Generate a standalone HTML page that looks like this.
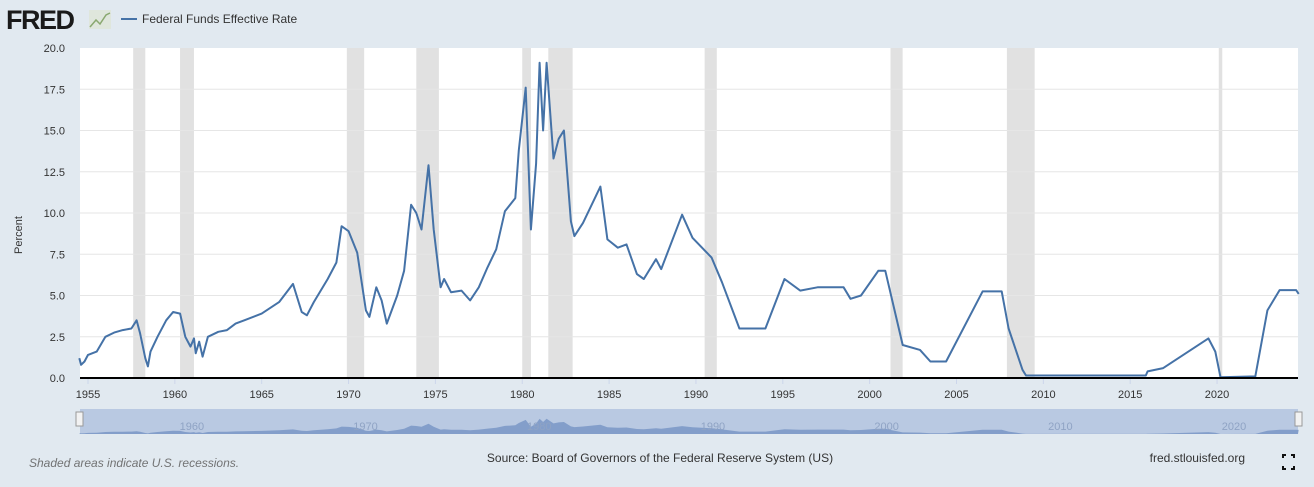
<!DOCTYPE html>
<html><head><meta charset="utf-8"><style>
html,body{margin:0;padding:0;background:#e1e9f0;width:1314px;height:487px;overflow:hidden;font-family:"Liberation Sans",sans-serif}
</style></head><body>
<svg id="s" width="1314" height="487" xmlns="http://www.w3.org/2000/svg" style="position:absolute;left:0;top:0">
<rect width="1314" height="487" fill="#e1e9f0"/>
<text x="6" y="29" font-family="Liberation Sans" font-weight="bold" font-size="27" fill="#1a1a1a" letter-spacing="-1.5">FRED</text>
<rect x="89" y="10" width="22" height="19" fill="#dfe6dc"/>
<polyline points="90,27 96,20 100,24 106,15 110,13" fill="none" stroke="#8aa870" stroke-width="1.5"/>
<line x1="121" y1="19" x2="137" y2="19" stroke="#4572a7" stroke-width="2"/>
<text x="142" y="23" font-size="12" fill="#333">Federal Funds Effective Rate</text>
<text x="22" y="235" font-size="11" fill="#333" transform="rotate(-90 22 235)" text-anchor="middle">Percent</text>
<g id="plot"></g>
<text x="29" y="467" font-size="12" fill="#666" font-style="italic" fill-opacity="0.9">Shaded areas indicate U.S. recessions.</text>
<text x="660" y="462" font-size="12" fill="#333" text-anchor="middle">Source: Board of Governors of the Federal Reserve System (US)</text>
<text x="1245" y="462" font-size="12" fill="#333" text-anchor="end">fred.stlouisfed.org</text>
<path d="M1283 458v-3h3M1291 455h3v3M1294 466v3h-3M1286 469h-3v-3" fill="none" stroke="#111" stroke-width="2"/>
</svg>
<script>
var g=document.getElementById("plot");
function X(t){return 88+(t-1955)*17.37}
var T=48,B=378;function Y(v){return B-(v/20)*(B-T)}
var h='<rect x="80" y="48" width="1218" height="330" fill="#fff"/>';
var rec=[[1957.6,1958.3],[1960.3,1961.1],[1969.9,1970.9],[1973.9,1975.2],[1980.0,1980.5],[1981.5,1982.9],[1990.5,1991.2],[2001.2,2001.9],[2007.9,2009.5],[2020.1,2020.3]];
rec.forEach(function(r){h+='<rect x="'+X(r[0])+'" y="48" width="'+(X(r[1])-X(r[0]))+'" height="330" fill="#e1e1e1"/>'});
for(var i=1;i<8;i++){var y=Y(i*2.5);h+='<line x1="80" x2="1298" y1="'+y+'" y2="'+y+'" stroke="#e6e6e6"/>'}
for(var i=0;i<=8;i++){var v=i*2.5;h+='<text x="65" y="'+(Y(v)+4)+'" font-size="11" fill="#333" text-anchor="end">'+v.toFixed(1)+'</text>'}
for(var yr=1955;yr<=2020;yr+=5){var x=X(yr);h+='<line x1="'+x+'" x2="'+x+'" y1="378" y2="384" stroke="#ccd6eb"/><text x="'+x+'" y="398" font-size="11" fill="#333" text-anchor="middle">'+yr+'</text>'}
var d=[[1954.5,1.2],[1954.6,0.8],[1954.8,1.0],[1955.0,1.4],[1955.5,1.6],[1956,2.5],[1956.5,2.75],[1957,2.9],[1957.5,3.0],[1957.8,3.5],[1958.0,2.7],[1958.3,1.2],[1958.45,0.7],[1958.6,1.6],[1959,2.5],[1959.5,3.5],[1959.9,4.0],[1960.3,3.9],[1960.6,2.5],[1960.9,1.9],[1961.1,2.4],[1961.2,1.5],[1961.4,2.2],[1961.6,1.3],[1961.9,2.5],[1962.5,2.8],[1963,2.9],[1963.5,3.3],[1964,3.5],[1965,3.9],[1966,4.6],[1966.8,5.7],[1967.3,4.0],[1967.6,3.8],[1968,4.6],[1968.8,6.0],[1969.3,7.0],[1969.6,9.2],[1970.0,8.9],[1970.5,7.6],[1971.0,4.1],[1971.2,3.7],[1971.6,5.5],[1971.9,4.7],[1972.2,3.3],[1972.8,5.0],[1973.2,6.5],[1973.6,10.5],[1973.9,10.0],[1974.2,9.0],[1974.6,12.9],[1974.9,9.0],[1975.3,5.5],[1975.5,6.0],[1975.9,5.2],[1976.5,5.3],[1977.0,4.7],[1977.5,5.5],[1978,6.7],[1978.5,7.8],[1979,10.1],[1979.6,10.9],[1979.8,13.8],[1980.2,17.6],[1980.5,9.0],[1980.8,13.0],[1981.0,19.1],[1981.2,15.0],[1981.4,19.1],[1981.8,13.3],[1982.1,14.5],[1982.4,15.0],[1982.8,9.5],[1983,8.6],[1983.5,9.4],[1984.5,11.6],[1984.9,8.4],[1985.5,7.9],[1986.0,8.1],[1986.6,6.3],[1987,6.0],[1987.7,7.2],[1988,6.6],[1989.2,9.9],[1989.8,8.5],[1990.9,7.3],[1991.5,5.8],[1992.5,3.0],[1993.5,3.0],[1994,3.0],[1995.1,6.0],[1996,5.3],[1997,5.5],[1998.5,5.5],[1998.9,4.8],[1999.5,5.0],[2000.5,6.5],[2000.9,6.5],[2001.9,2.0],[2002.9,1.7],[2003.5,1.0],[2004.4,1.0],[2006.5,5.25],[2007.6,5.25],[2008.0,3.0],[2008.8,0.5],[2009,0.15],[2015.9,0.15],[2016.0,0.4],[2016.9,0.6],[2019.5,2.4],[2019.9,1.6],[2020.2,0.05],[2022.2,0.1],[2022.9,4.1],[2023.6,5.33],[2024.55,5.33],[2024.7,5.1]];
var p=d.map(function(a){return X(a[0]).toFixed(1)+','+Y(a[1]).toFixed(1)}).join(' ');
h+='<polyline points="'+p+'" fill="none" stroke="#4572a7" stroke-width="2" stroke-linejoin="round"/>';
h+='<line x1="80" x2="1298" y1="378" y2="378" stroke="#000" stroke-width="2"/>';
h+='<rect x="80" y="409" width="1218" height="25" fill="#b9c9e2"/>';
var np='80,434 '+d.map(function(a){return X(a[0]).toFixed(1)+','+(434-a[1]*0.8).toFixed(1)}).join(' ')+' 1298,434';
h+='<polygon points="'+np+'" fill="#7593c4" fill-opacity="0.8"/>';
[1960,1970,1980,1990,2000,2010,2020].forEach(function(yr){h+='<text x="'+(X(yr)+17)+'" y="430" font-size="11" fill="#8fa3c4" text-anchor="middle">'+yr+'</text>'});
h+='<rect x="76" y="412" width="7" height="14" fill="#f2f2f2" stroke="#999"/><rect x="1295" y="412" width="7" height="14" fill="#f2f2f2" stroke="#999"/>';
g.innerHTML=h;
</script>
</body></html>
